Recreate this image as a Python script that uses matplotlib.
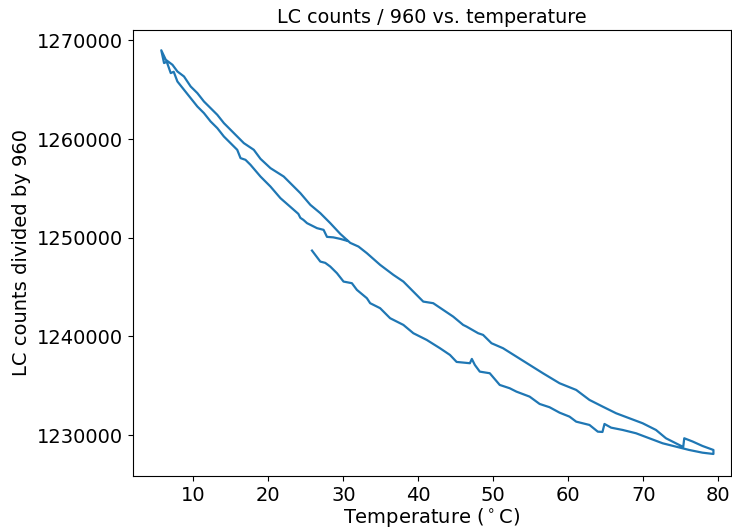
########
# DATA #
########

import matplotlib
matplotlib.use("Agg")
import matplotlib.pyplot as plt

# first heating run (lower branch), 26 -> 79 C
heat1_temp = [25.82, 26.26, 26.93, 27.59, 28.26, 29.15, 30.03, 31.14, 31.81, 33.14,
              33.58, 34.91, 36.24, 38.01, 39.34, 41.12, 42.89, 44.22, 45.11, 46.88,
              47.14, 47.54, 48.20, 49.53, 50.86, 52.19, 53.09, 54.85, 56.18, 57.51,
              58.84, 60.17, 61.06, 62.83, 63.94, 64.56, 64.83, 65.72, 67.26, 69.04,
              70.81, 72.58, 74.36, 76.13, 77.90, 79.36]
heat1_counts = [1248696, 1248260, 1247581, 1247449, 1247074, 1246404, 1245553, 1245390,
                1244711, 1243869, 1243362, 1242855, 1241841, 1241162, 1240320, 1239641,
                1238799, 1238120, 1237410, 1237278, 1237714, 1237106, 1236427, 1236264,
                1235078, 1234743, 1234399, 1233892, 1233151, 1232817, 1232269, 1231864,
                1231357, 1231022, 1230343, 1230312, 1231123, 1230748, 1230515, 1230180,
                1229673, 1229166, 1228822, 1228487, 1228213, 1228081]

# cooling run (upper branch), 79 -> 6 C
cool_temp = [79.36, 77.90, 76.57, 75.47, 75.33, 74.36, 73.03, 71.70, 69.92, 68.15,
             66.38, 64.60, 62.83, 61.06, 58.84, 56.62, 54.85, 53.09, 51.30, 49.76,
             48.64, 47.98, 46.44, 45.98, 44.65, 43.32, 41.99, 40.66, 39.34, 38.01,
             36.68, 34.91, 33.14, 32.02, 30.92, 30.48, 29.59, 28.26, 26.93, 25.60,
             24.27, 23.38, 22.05, 20.28, 18.95, 18.06, 16.73, 15.40, 14.07, 13.19,
             12.30, 11.41, 10.53, 9.64, 8.75, 7.87, 7.21, 6.32, 5.72]
cool_counts = [1228487, 1228893, 1229349, 1229673, 1228791, 1229166, 1229673, 1230515,
               1231194, 1231701, 1232208, 1232878, 1233557, 1234571, 1235250, 1236264,
               1237106, 1237948, 1238799, 1239306, 1240148, 1240320, 1240990, 1241162,
               1242004, 1242683, 1243362, 1243525, 1244539, 1245553, 1246232, 1247246,
               1248432, 1249102, 1249477, 1249781, 1250389, 1251474, 1252488, 1253330,
               1254516, 1255186, 1256200, 1257051, 1257994, 1258907, 1259586, 1260600,
               1261614, 1262456, 1263135, 1263805, 1264656, 1265326, 1266340, 1266847,
               1267526, 1268033, 1268996]

# second heating run (middle branch), 6 -> 30 C
heat2_temp = [5.72, 6.09, 6.45, 6.98, 7.38, 7.87, 8.75, 9.64, 10.53, 11.41,
              12.30, 13.19, 14.07, 14.96, 15.85, 16.29, 16.95, 17.62, 18.95, 20.28,
              21.61, 22.94, 24.00, 24.27, 24.67, 25.16, 26.49, 27.37, 27.82, 28.66,
              29.59, 30.52]
heat2_counts = [1268996, 1267698, 1267830, 1266684, 1266816, 1265833, 1264991, 1264149,
                1263298, 1262628, 1261777, 1261107, 1260256, 1259586, 1258907, 1258065,
                1257893, 1257386, 1256200, 1255186, 1254009, 1253127, 1252417, 1252012,
                1251809, 1251474, 1250967, 1250795, 1250085, 1250034, 1249882, 1249680]

temp = heat1_temp + cool_temp + heat2_temp
counts = heat1_counts + cool_counts + heat2_counts

########
# PLOT #
########

fig = plt.figure(figsize=(7.32, 5.29), dpi=100)
ax = fig.add_axes([0.1817, 0.1002, 0.8169, 0.8431])
ax.plot(temp, counts, color="#1f77b4", linewidth=1.6)

ax.set_xlim(1.95, 81.7)
ax.set_ylim(1225850, 1271050)
ax.set_xticks([10, 20, 30, 40, 50, 60, 70, 80])
ax.set_yticks([1230000, 1240000, 1250000, 1260000, 1270000])
ax.ticklabel_format(axis="y", style="plain", useOffset=False)
ax.tick_params(labelsize=14)

ax.set_title("LC counts / 960 vs. temperature", fontsize=13.8, pad=5)
ax.set_xlabel(r"Temperature ($^\circ$C)", fontsize=14, labelpad=1)
ax.set_ylabel("LC counts divided by 960", fontsize=14, labelpad=4)

fig.savefig("out.png", dpi=100)
